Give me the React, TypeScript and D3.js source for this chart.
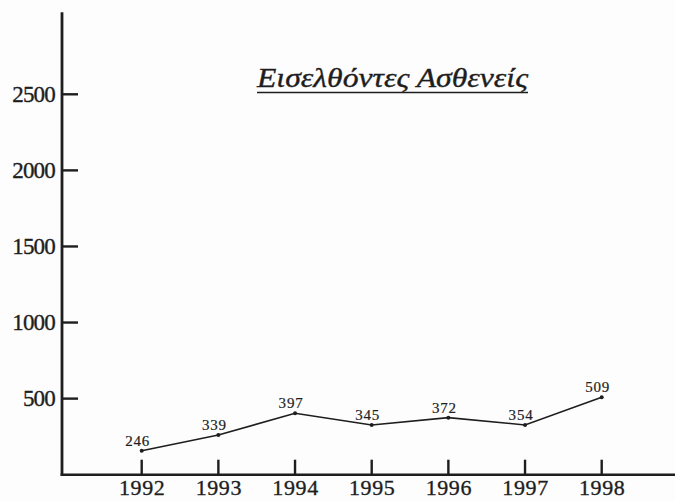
import React from "react";
import * as d3 from "d3";

// ---- data ----
const years: string[] = ["1992", "1993", "1994", "1995", "1996", "1997", "1998"];
// values as plotted in the picture
const patients: number[] = [158, 261, 404, 327, 375, 327, 509];
// value labels printed above the points
const pointLabels: string[] = ["246", "339", "397", "345", "372", "354", "509"];
const yTicks: number[] = [500, 1000, 1500, 2000, 2500];
const yAxisMax = 3040;
const title = "Εισελθόντες Ασθενείς";

const W = 675;
const H = 501;
const INK = "#1e1e1e";
const SERIF = "'Liberation Serif', 'Times New Roman', Times, serif";

export default function App() {
  const axisX = 62;
  const x = d3.scalePoint<string>().domain(years).range([141.7, 601.7]);
  const y = d3.scaleLinear().domain([0, 2500]).range([474.7, 94.3]);

  const line = d3
    .line<number>()
    .x((_, i) => x(years[i]) as number)
    .y((d) => y(d));

  const textInk = { fill: INK, stroke: INK, strokeWidth: 0.35 };

  return (
    <svg
      width={W}
      height={H}
      viewBox={`0 0 ${W} ${H}`}
      style={{ position: "absolute", left: 0, top: 0, background: "#fdfdfd" }}
    >
      <rect x={0} y={0} width={W} height={H} fill="#fdfdfd" />

      {/* title */}
      <text
        x={257}
        y={87}
        fontFamily={SERIF}
        fontStyle="italic"
        fontSize={27}
        textLength={271}
        lengthAdjust="spacingAndGlyphs"
        {...textInk}
      >
        {title}
      </text>
      <line x1={257} x2={528} y1={92.5} y2={92.5} stroke={INK} strokeWidth={1.3} />

      {/* y axis */}
      <line x1={axisX} x2={axisX} y1={y(yAxisMax)} y2={y(0) + 1} stroke={INK} strokeWidth={2.8} />
      {yTicks.map((t) => (
        <g key={t}>
          <line x1={axisX} x2={axisX + 16} y1={y(t)} y2={y(t)} stroke={INK} strokeWidth={2.4} />
          <text
            x={55}
            y={y(t)}
            dy="0.34em"
            textAnchor="end"
            fontFamily={SERIF}
            fontSize={23}
            letterSpacing={-0.8}
            {...textInk}
          >
            {t}
          </text>
        </g>
      ))}

      {/* x axis */}
      <line x1={axisX - 1.4} x2={W} y1={y(0)} y2={y(0)} stroke={INK} strokeWidth={2.6} />
      {years.map((yr) => (
        <g key={yr}>
          <line
            x1={x(yr)}
            x2={x(yr)}
            y1={y(0)}
            y2={y(0) - 15}
            stroke={INK}
            strokeWidth={2.4}
          />
          <text
            x={(x(yr) as number) + 0.5}
            y={495}
            textAnchor="middle"
            fontFamily={SERIF}
            fontSize={22}
            letterSpacing={0.6}
            {...textInk}
          >
            {yr}
          </text>
        </g>
      ))}

      {/* series line */}
      <path d={line(patients) ?? ""} fill="none" stroke={INK} strokeWidth={1.6} />
      {patients.map((v, i) => (
        <circle key={i} cx={x(years[i])} cy={y(v)} r={2} fill={INK} />
      ))}
      {patients.map((v, i) => (
        <text
          key={"l" + i}
          x={(x(years[i]) as number) - 4}
          y={y(v) - 5}
          textAnchor="middle"
          fontFamily={SERIF}
          fontSize={15}
          letterSpacing={0.8}
          fill={INK}
          stroke={INK}
          strokeWidth={0.2}
        >
          {pointLabels[i]}
        </text>
      ))}
    </svg>
  );
}
